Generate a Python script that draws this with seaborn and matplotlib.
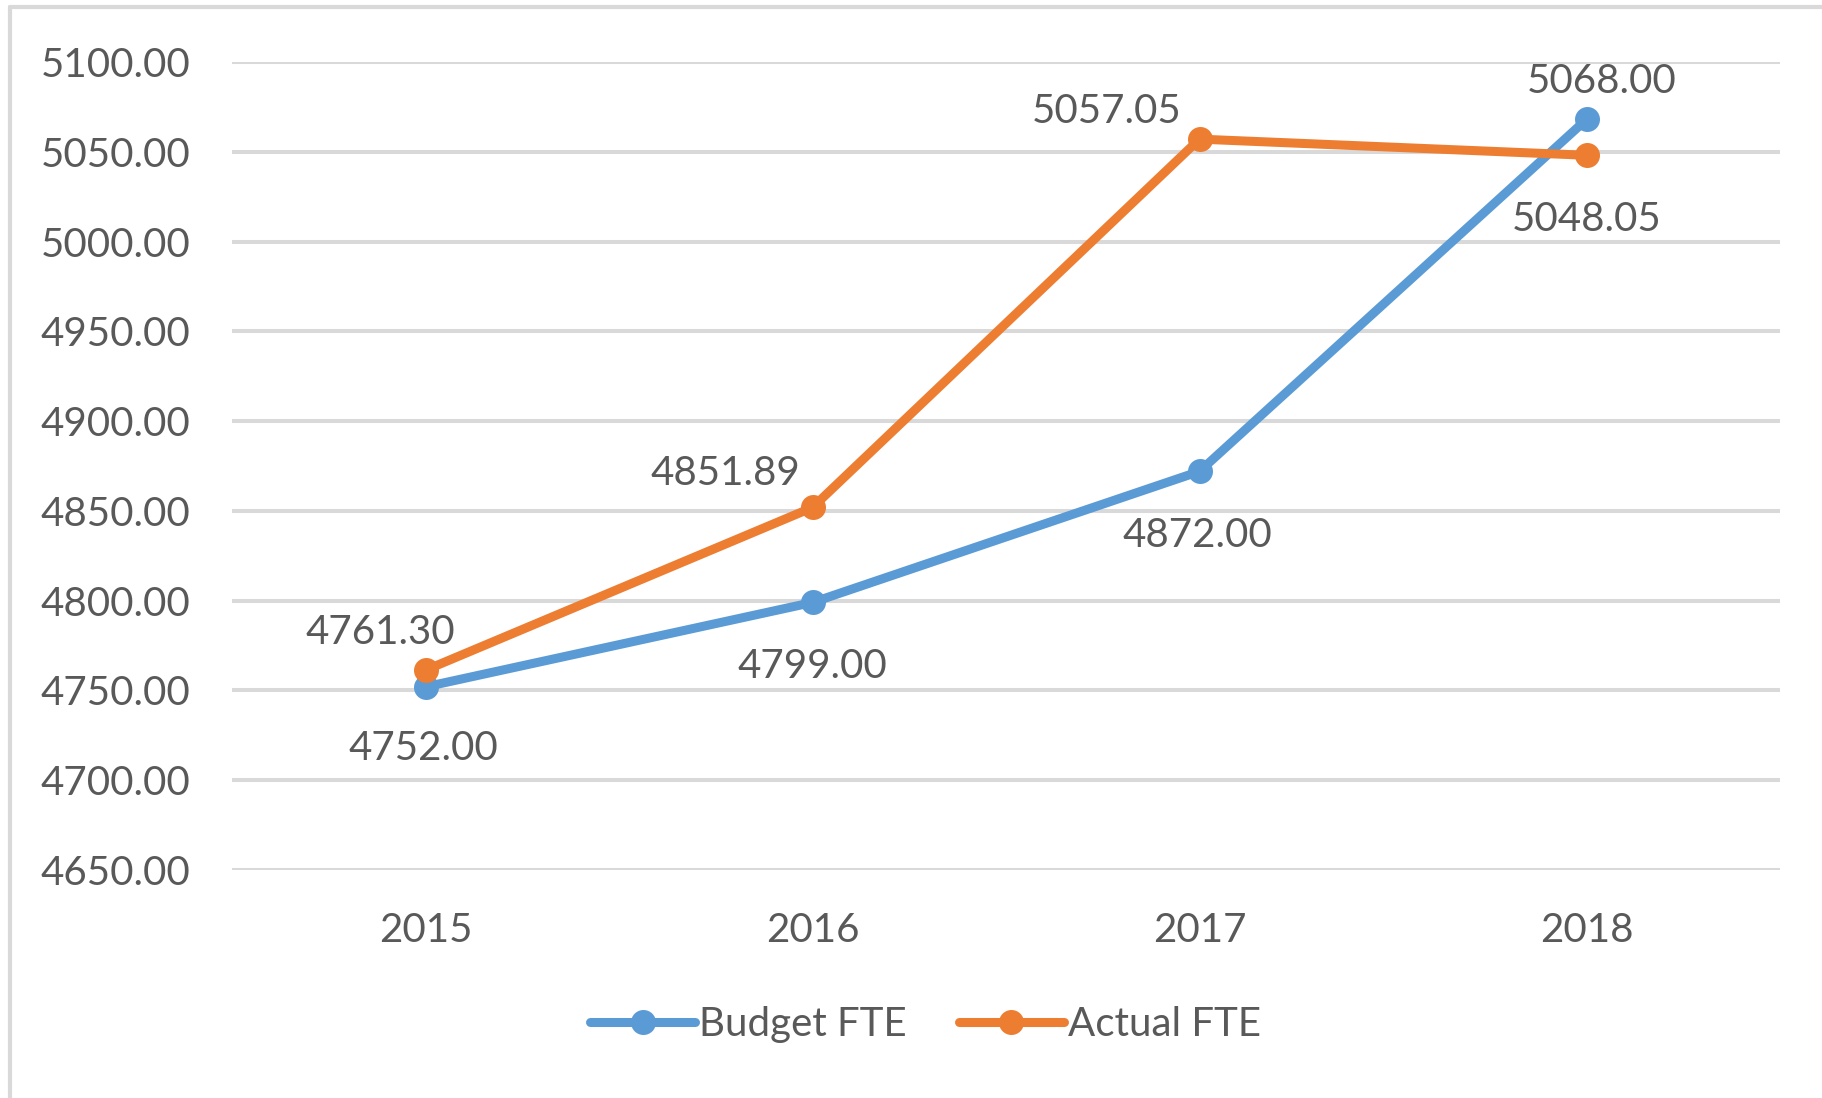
import pandas as pd
import matplotlib.pyplot as plt
import seaborn as sns
from matplotlib.lines import Line2D

# datos del grafico
years = [2015, 2016, 2017, 2018]
budget_fte = [4752.00, 4799.00, 4872.00, 5068.00]
actual_fte = [4761.30, 4851.89, 5057.05, 5048.05]
series_names = ['Budget FTE', 'Actual FTE']

# colores estilo Excel
colores = {'Budget FTE': '#5B9BD5', 'Actual FTE': '#ED7D31'}
gris_texto = '#595959'
gris_linea = '#D9D9D9'

df = pd.DataFrame({
    'year': years * 2,
    'fte': budget_fte + actual_fte,
    'serie': [series_names[0]] * 4 + [series_names[1]] * 4,
})

sns.set_style('white')
plt.rcParams['font.family'] = ['Lato', 'DejaVu Sans']

fig = plt.figure(figsize=(18.22, 10.98), dpi=100)
ax = fig.add_axes([232 / 1822, 1 - 870 / 1098, (1780 - 232) / 1822, (870 - 62) / 1098])

sns.lineplot(data=df, x='year', y='fte', hue='serie', palette=colores, ax=ax,
             marker='o', markersize=18, markeredgewidth=0, linewidth=6.5,
             legend=False, clip_on=False)

ax.set_xlim(2014.5, 2018.5)
ax.set_ylim(4650, 5100)
ax.set_yticks([4650 + 50 * i for i in range(10)])
ax.set_yticklabels([f'{v:.2f}' for v in ax.get_yticks()])
ax.set_xticks(years)
ax.set_xticklabels([str(y) for y in years])
ax.tick_params(axis='both', colors=gris_texto, labelsize=29, length=0)
ax.tick_params(axis='y', pad=30)
ax.tick_params(axis='x', pad=30)
ax.grid(axis='y', color=gris_linea, linewidth=2.9)
ax.set_axisbelow(True)
for s in ax.spines.values():
    s.set_visible(False)
ax.set_xlabel('')
ax.set_ylabel('')

# etiquetas de datos (desplazamiento en pixeles)
off_budget = [(-2, -62), (0, -64), (-2, -64), (15, 38)]
off_actual = [(-45, 38), (-87, 34), (-93, 28), (0, -64)]
for x, v, o in zip(years, budget_fte, off_budget):
    ax.annotate(f'{v:.2f}', (x, v), xytext=o, textcoords='offset pixels',
                ha='center', va='center', fontsize=29, color=gris_texto)
for x, v, o in zip(years, actual_fte, off_actual):
    ax.annotate(f'{v:.2f}', (x, v), xytext=o, textcoords='offset pixels',
                ha='center', va='center', fontsize=29, color=gris_texto)

# leyenda
handles = ax.get_lines()[:2]
fig.legend(handles, series_names, loc='center', bbox_to_anchor=(0.508, 0.0665),
           ncol=2, frameon=False, fontsize=29, labelcolor=gris_texto,
           handlelength=2.6, handletextpad=0.1, columnspacing=1.3)

# borde del area del grafico
fig.add_artist(Line2D([10 / 1822, 1], [1 - 7 / 1098, 1 - 7 / 1098], color=gris_linea, linewidth=3))
fig.add_artist(Line2D([10 / 1822, 10 / 1822], [0, 1 - 7 / 1098], color=gris_linea, linewidth=3))

fig.savefig('out.png', dpi=100)
